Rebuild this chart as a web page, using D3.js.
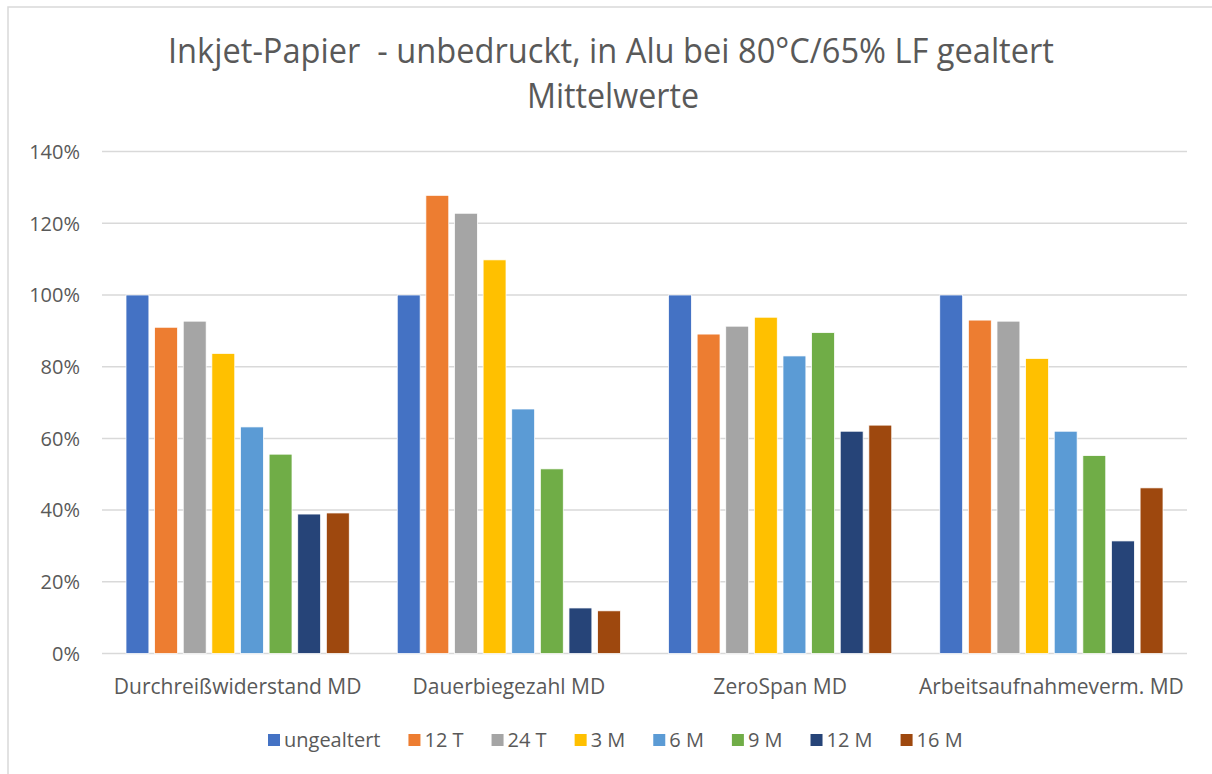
<!DOCTYPE html>
<html>
<head>
<meta charset="utf-8">
<script src="https://cdn.jsdelivr.net/npm/d3@7"></script>
<style>
  body { margin: 0; background: #fff; }
  text { font-family: "Open Sans", "Noto Sans", sans-serif; fill: #595959; }
  .title { white-space: pre; }
</style>
</head>
<body>
<script>
// Chart data (as fractions)
const categories = ["Durchreißwiderstand MD", "Dauerbiegezahl MD", "ZeroSpan MD", "Arbeitsaufnahmeverm. MD"];
const seriesNames = ["ungealtert", "12 T", "24 T", "3 M", "6 M", "9 M", "12 M", "16 M"];
const ungealtert = [1.00, 1.00, 1.00, 1.00];
const t12 = [0.910, 1.278, 0.891, 0.930];
const t24 = [0.927, 1.228, 0.913, 0.927];
const m3 = [0.837, 1.098, 0.938, 0.823];
const m6 = [0.632, 0.682, 0.830, 0.620];
const m9 = [0.556, 0.515, 0.895, 0.552];
const m12 = [0.389, 0.127, 0.620, 0.314];
const m16 = [0.392, 0.119, 0.637, 0.462];
const yTicks = [0, 0.2, 0.4, 0.6, 0.8, 1.0, 1.2, 1.4];
const colors = ["#4472C4", "#ED7D31", "#A5A5A5", "#FFC000", "#5B9BD5", "#70AD47", "#264478", "#9E480E"];

const seriesValues = [ungealtert, t12, t24, m3, m6, m9, m12, m16];

const width = 1212;
const height = 774;

const svg = d3.select("body")
  .append("svg")
  .attr("width", width)
  .attr("height", height);

// outer chart border
svg.append("rect")
  .attr("x", 8).attr("y", 7)
  .attr("width", 1220).attr("height", 800)
  .attr("fill", "none")
  .attr("stroke", "#d9d9d9")
  .attr("stroke-width", 1.5);

// Title (two lines, condensed to the reference width)
svg.append("text")
  .attr("class", "title")
  .attr("x", 611).attr("y", 63)
  .attr("text-anchor", "middle")
  .attr("font-size", 34)
  .attr("textLength", 886)
  .attr("lengthAdjust", "spacingAndGlyphs")
  .text("Inkjet-Papier  - unbedruckt, in Alu bei 80°C/65% LF gealtert");

svg.append("text")
  .attr("class", "title")
  .attr("x", 613).attr("y", 108)
  .attr("text-anchor", "middle")
  .attr("font-size", 34)
  .attr("textLength", 172)
  .attr("lengthAdjust", "spacingAndGlyphs")
  .text("Mittelwerte");

// Scales
const x0 = d3.scaleBand()
  .domain(categories)
  .range([102, 1187]);

const x1 = d3.scaleBand()
  .domain(seriesNames)
  .range([24, x0.bandwidth() - 24])
  .paddingInner(0.2);

const y = d3.scaleLinear()
  .domain([0, 1.4])
  .range([653.5, 151.6]);

// Gridlines
svg.append("g")
  .selectAll("line")
  .data(yTicks)
  .join("line")
  .attr("x1", 102).attr("x2", 1187)
  .attr("y1", d => y(d)).attr("y2", d => y(d))
  .attr("stroke", "#d9d9d9")
  .attr("stroke-width", 1.5);

// Y axis labels
svg.append("g")
  .selectAll("text")
  .data(yTicks)
  .join("text")
  .attr("x", 80)
  .attr("y", d => y(d))
  .attr("dy", "0.36em")
  .attr("text-anchor", "end")
  .attr("font-size", 20)
  .text(d => d3.format(".0%")(d));

// Bars
const groups = svg.append("g")
  .selectAll("g")
  .data(categories)
  .join("g")
  .attr("transform", d => `translate(${x0(d)},0)`);

groups.selectAll("rect")
  .data((c, ci) => seriesNames.map((s, si) => ({ s, si, v: seriesValues[si][ci] })))
  .join("rect")
  .attr("x", d => x1(d.s))
  .attr("y", d => y(d.v))
  .attr("width", x1.bandwidth())
  .attr("height", d => y(0) - y(d.v))
  .attr("fill", d => colors[d.si])
  .attr("stroke", "#fff")
  .attr("stroke-width", 0.75);

// Category labels
svg.append("g")
  .selectAll("text")
  .data(categories)
  .join("text")
  .attr("x", d => x0(d) + x0.bandwidth() / 2)
  .attr("y", 694)
  .attr("text-anchor", "middle")
  .attr("font-size", 21)
  .text(d => d);

// Legend
const legend = svg.append("g");
let lx = 268;
seriesNames.forEach((name, i) => {
  legend.append("rect")
    .attr("x", lx).attr("y", 734)
    .attr("width", 12).attr("height", 12)
    .attr("fill", colors[i]);
  const t = legend.append("text")
    .attr("x", lx + 16)
    .attr("y", 747)
    .attr("font-size", 20)
    .text(name);
  lx += 16 + t.node().getComputedTextLength() + 28;
});
</script>
</body>
</html>
